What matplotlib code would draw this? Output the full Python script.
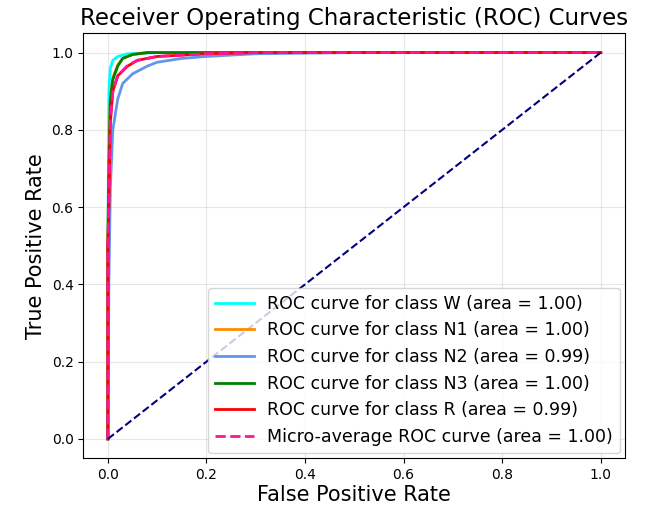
import matplotlib.pyplot as plt

# ROC points
fpr_w = [0, 0, 0.002, 0.005, 0.01, 0.02, 0.04, 0.1, 1]
tpr_w = [0, 0.5, 0.9, 0.96, 0.98, 0.99, 0.997, 1, 1]
fpr_n1 = [0, 0, 0.002, 0.005, 0.01, 0.02, 0.03, 0.05, 0.08, 1]
tpr_n1 = [0, 0.5, 0.72, 0.88, 0.935, 0.968, 0.985, 0.995, 1, 1]
fpr_n2 = [0, 0.002, 0.005, 0.01, 0.02, 0.03, 0.05, 0.08, 0.1, 0.15, 0.2, 0.3, 0.5, 1]
tpr_n2 = [0, 0.4, 0.65, 0.8, 0.88, 0.92, 0.945, 0.965, 0.975, 0.985, 0.99, 0.997, 1, 1]
fpr_n3 = [0, 0, 0.002, 0.005, 0.01, 0.02, 0.03, 0.05, 0.08, 1]
tpr_n3 = [0, 0.5, 0.7, 0.88, 0.93, 0.965, 0.985, 0.995, 1, 1]
fpr_r = [0, 0, 0.002, 0.005, 0.01, 0.02, 0.04, 0.06, 0.1, 0.2, 0.3, 1]
tpr_r = [0, 0.5, 0.6, 0.82, 0.9, 0.94, 0.965, 0.98, 0.99, 0.997, 1, 1]
fpr_micro = [0, 0, 0.002, 0.005, 0.01, 0.02, 0.04, 0.06, 0.1, 0.2, 0.3, 1]
tpr_micro = [0, 0.5, 0.62, 0.83, 0.9, 0.94, 0.967, 0.98, 0.99, 0.997, 1, 1]

curves = [
    (fpr_w, tpr_w, 'aqua', 'ROC curve for class W (area = 1.00)'),
    (fpr_n1, tpr_n1, 'darkorange', 'ROC curve for class N1 (area = 1.00)'),
    (fpr_n2, tpr_n2, 'cornflowerblue', 'ROC curve for class N2 (area = 0.99)'),
    (fpr_n3, tpr_n3, 'green', 'ROC curve for class N3 (area = 1.00)'),
    (fpr_r, tpr_r, 'red', 'ROC curve for class R (area = 0.99)'),
]

fig = plt.figure(figsize=(6.66, 5.12), dpi=100)
ax = fig.add_axes([0.125, 0.105, 0.814, 0.83])
for f, t, c, lab in curves:
    ax.plot(f, t, color=c, lw=2, label=lab)
ax.plot(fpr_micro, tpr_micro, color='deeppink', lw=2, ls='--',
        label='Micro-average ROC curve (area = 1.00)')
ax.plot([0, 1], [0, 1], color='navy', lw=1.5, ls='--')
ax.set_xlim(-0.05, 1.05)
ax.set_ylim(-0.05, 1.05)
ax.grid(alpha=0.3)
ax.set_xlabel('False Positive Rate', fontsize=15, labelpad=2)
ax.set_ylabel('True Positive Rate', fontsize=15)
ax.set_title('Receiver Operating Characteristic (ROC) Curves', fontsize=16.5)
ax.legend(loc='lower right', fontsize=12.5, borderaxespad=0.3, handlelength=2.2)
fig.savefig('out.png', dpi=100)
